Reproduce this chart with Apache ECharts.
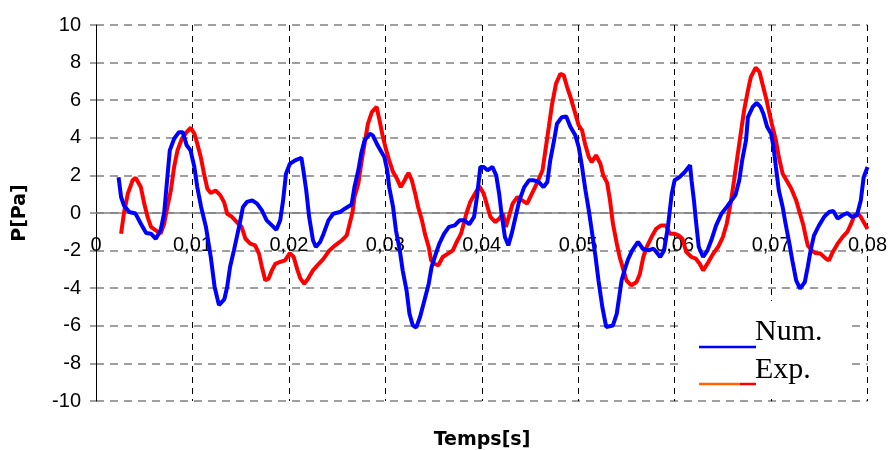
<!DOCTYPE html>
<html><head><meta charset="utf-8">
<script src="https://cdn.jsdelivr.net/npm/echarts@6/dist/echarts.min.js"></script>
<style>html,body{margin:0;padding:0;background:#fff}#c{width:890px;height:450px}</style>
</head><body><div id="c"></div>
<script>
// time in milliseconds, pressure in Pa
const numTimeMs = [2.34,2.6,2.9,3.45,4.1,4.65,5.2,5.7,6.2,6.7,7.07,7.34,7.65,8.1,8.6,9.0,9.4,9.8,10.2,10.5,10.9,11.4,11.9,12.3,12.75,12.95,13.3,13.6,13.9,14.3,14.6,14.9,15.24,15.65,16.2,16.7,17.2,17.7,18.24,18.7,19.1,19.4,19.7,20.1,20.65,21.3,21.5,21.8,22.1,22.5,22.8,23.24,23.6,24.1,24.6,25.3,25.8,26.5,26.8,27.2,27.5,27.85,28.4,28.7,29.2,29.6,29.9,30.2,30.4,30.8,31.1,31.5,31.8,32.2,32.5,32.85,33.2,33.6,34.05,34.5,34.8,35.3,35.6,36.1,36.6,37.2,37.7,38.2,38.7,39.2,39.5,39.85,40.2,40.6,41.1,41.5,41.8,42.05,42.4,42.75,43.1,43.5,43.9,44.4,44.9,45.4,45.9,46.4,46.8,47.1,47.5,47.8,48.3,48.75,49.2,49.7,50.05,50.4,50.75,51.1,51.4,51.8,52.1,52.5,52.9,53.6,54.0,54.3,54.5,54.85,55.2,55.6,56.2,56.7,57.3,57.8,58.1,58.5,58.9,59.3,59.7,60.0,60.5,61.05,61.6,61.75,62.0,62.2,62.5,62.95,63.4,63.8,64.3,64.85,65.4,65.9,66.3,66.7,67.0,67.4,67.6,68.1,68.5,68.9,69.2,69.6,70.0,70.25,70.5,70.8,71.2,71.5,71.9,72.2,72.6,73.0,73.5,73.8,74.1,74.45,74.97,75.5,76.0,76.45,76.9,77.4,77.9,78.4,78.9,79.3,79.6,80.0];
const numP = [1.9,0.85,0.4,0.05,-0.03,-0.57,-1.06,-1.1,-1.37,-0.92,0,1.56,3.33,3.95,4.3,4.3,3.6,3.33,2.45,1.38,0.32,-0.74,-2.34,-3.94,-4.9,-4.95,-4.6,-3.94,-2.87,-1.99,-1.28,-0.57,0.32,0.59,0.67,0.5,0.14,-0.39,-0.66,-0.89,-0.39,0.67,2.09,2.62,2.8,2.94,2.27,1.2,-0.21,-1.45,-1.81,-1.54,-1.1,-0.39,-0.04,0.05,0.23,0.45,1.38,2.27,3.16,3.87,4.22,4.13,3.6,3.24,2.98,2.27,1.38,0.32,-0.92,-1.99,-3.05,-4.11,-5.35,-5.98,-6.1,-5.53,-4.65,-3.76,-2.87,-2.07,-1.63,-1.1,-0.74,-0.66,-0.39,-0.39,-0.6,-0.21,0.85,2.45,2.45,2.27,2.45,2.0,1.03,-0.04,-1.28,-1.72,-1.1,-0.21,0.67,1.38,1.74,1.74,1.65,1.38,1.65,2.8,3.87,4.75,5.1,5.14,4.57,4.13,3.51,2.45,1.21,0.14,-0.92,-2.34,-3.58,-5.0,-6.06,-5.98,-5.35,-4.29,-3.58,-2.96,-2.43,-1.99,-1.54,-1.9,-1.99,-1.9,-2.07,-2.34,-1.99,-0.74,1.03,1.74,1.91,2.18,2.54,1.74,0.67,-0.39,-1.81,-2.34,-1.99,-1.45,-0.66,-0.04,0.32,0.67,0.95,1.74,2.8,3.87,5.1,5.64,5.85,5.64,5.28,4.57,4.22,3.51,2.45,1.21,0.32,-0.57,-1.63,-2.52,-3.58,-4.02,-3.67,-2.87,-1.99,-1.19,-0.66,-0.21,0.05,0.11,-0.3,-0.12,0,-0.21,-0.12,0.67,1.91,2.45];

const expTimeMs = [2.6,2.9,3.3,3.8,4.1,4.65,5.0,5.35,5.7,6.2,6.7,7.07,7.4,7.76,8.1,8.45,8.9,9.4,9.83,10.2,10.5,10.86,11.2,11.55,11.9,12.4,12.9,13.3,13.6,14.1,14.6,15.1,15.5,16.0,16.5,16.9,17.2,17.55,17.9,18.24,18.6,19.1,19.6,20.1,20.5,20.9,21.2,21.6,22.0,22.5,23.1,23.6,24.2,24.8,25.5,26.0,26.3,26.6,26.8,27.2,27.5,27.85,28.2,28.6,29.1,29.4,29.75,30.1,30.4,30.8,31.2,31.6,32.0,32.4,32.75,33.1,33.4,33.8,34.1,34.5,34.75,35.1,35.5,35.95,36.5,37.0,37.4,37.85,38.4,38.8,39.2,39.75,40.2,40.6,40.9,41.4,41.8,42.2,42.5,42.8,43.2,43.7,44.2,44.7,45.2,45.7,46.3,46.6,46.95,47.3,47.7,48.15,48.5,48.85,49.2,49.6,50.05,50.4,50.7,51.1,51.4,51.85,52.3,52.6,53.0,53.3,53.6,54.0,54.3,54.7,55.0,55.5,56.05,56.4,56.75,57.1,57.6,58.1,58.6,59.1,59.5,59.95,60.4,60.8,61.2,61.75,62.2,62.6,62.95,63.5,64.0,64.5,65.0,65.4,65.8,66.15,66.5,66.9,67.2,67.6,67.9,68.4,68.8,69.1,69.45,69.8,70.15,70.5,70.8,71.2,71.7,72.1,72.6,73.0,73.35,73.6,73.8,74.2,74.6,75.1,75.7,76.0,76.4,76.9,77.4,77.9,78.3,78.65,79.0,79.3,79.7,80.0];
const expP = [-1.1,0,1.03,1.74,1.88,1.38,0.5,-0.21,-0.74,-0.92,-1.1,-0.57,0.32,1.2,2.45,3.33,3.95,4.3,4.54,4.22,3.69,2.98,2.09,1.29,1.06,1.2,0.94,0.55,-0.04,-0.21,-0.48,-0.74,-1.37,-1.63,-1.72,-2.16,-2.87,-3.58,-3.49,-3.05,-2.7,-2.6,-2.52,-2.13,-2.34,-3.05,-3.49,-3.76,-3.49,-3.05,-2.7,-2.43,-1.99,-1.72,-1.45,-1.19,-0.57,0.05,0.85,1.56,2.62,3.69,4.75,5.37,5.64,4.93,4.04,3.33,2.8,2.18,1.83,1.38,1.74,2.13,1.74,1.03,0.32,-0.39,-1.1,-1.81,-2.52,-2.7,-2.78,-2.34,-2.16,-1.99,-1.54,-1.1,-0.04,0.58,0.94,1.42,1.03,0.32,-0.21,-0.48,-0.3,-0.04,-0.74,-0.21,0.5,0.85,0.67,0.5,1.03,1.56,2.27,3.33,4.57,5.82,6.88,7.41,7.32,6.7,6.17,5.46,4.66,4.4,3.69,2.98,2.71,3.07,2.62,2.0,1.6,0.67,-0.57,-1.63,-2.34,-3.05,-3.58,-3.85,-3.67,-3.23,-2.34,-1.81,-1.28,-0.83,-0.66,-0.66,-1.1,-1.1,-1.19,-1.37,-2.07,-2.34,-2.43,-2.7,-3.05,-2.61,-2.16,-1.81,-1.28,-0.57,0.5,1.7,2.98,4.4,5.46,6.52,7.23,7.73,7.5,6.88,6.17,5.37,4.57,3.87,2.98,2.09,1.65,1.29,0.67,-0.04,-0.66,-1.28,-1.72,-1.99,-2.13,-2.16,-2.43,-2.52,-2.07,-1.63,-1.28,-1.01,-0.57,-0.12,-0.04,-0.21,-0.57,-0.85];

const xTicks = [0,0.01,0.02,0.03,0.04,0.05,0.06,0.07,0.08];
const yTicks = [-10,-8,-6,-4,-2,0,2,4,6,8,10];
const legendNames = ['Num.', 'Exp.'];
const axisTitles = {x: 'Temps[s]', y: 'P[Pa]'};

const toPairs = (t, v) => t.map((ms, i) => [ms / 1000, v[i]]);

const chart = echarts.init(document.getElementById('c'), null, {renderer: 'canvas'});
chart.setOption({
  animation: false,
  backgroundColor: '#fff',
  grid: {left: 96, right: 21, top: 25, bottom: 49, containLabel: false},
  xAxis: {
    type: 'value', min: xTicks[0], max: xTicks[xTicks.length - 1], interval: 0.01,
    axisLine: {show: false, onZero: false},
    axisTick: {show: false},
    axisLabel: {
      margin: -166, color: '#000', fontFamily: 'Liberation Sans, Arial, sans-serif', fontSize: 20,
      formatter: v => String(Math.round(v * 100) / 100).replace('.', ',')
    },
    splitLine: {show: true, lineStyle: {color: '#000', width: 1, type: [6, 5]}}
  },
  yAxis: {
    type: 'value', min: yTicks[0], max: yTicks[yTicks.length - 1], interval: 2,
    name: axisTitles.y, nameLocation: 'middle', nameGap: 66, nameRotate: 90,
    nameTextStyle: {fontFamily: 'DejaVu Sans', fontWeight: 'bold', fontSize: 19, color: '#000'},
    axisLine: {show: true, onZero: false, lineStyle: {color: '#000', width: 1}},
    axisTick: {show: true, inside: false, length: 6, lineStyle: {color: '#808080', width: 1.5}},
    axisLabel: {margin: 15, color: '#000', fontFamily: 'Liberation Sans, Arial, sans-serif', fontSize: 20},
    splitLine: {show: true, lineStyle: {color: '#808080', width: 1.5, type: [8, 6]}}
  },
  series: [
    {name: legendNames[0], type: 'line', data: toPairs(numTimeMs, numP), showSymbol: false, symbol: 'none',
     lineStyle: {color: '#0000ff', width: 4}, z: 3,
     markLine: {silent: true, symbol: 'none', label: {show: false}, animation: false,
       lineStyle: {color: '#808080', width: 1.5, type: 'solid'}, data: [{yAxis: 0}], z: 1}},
    {name: legendNames[1], type: 'line', data: toPairs(expTimeMs, expP), showSymbol: false, symbol: 'none',
     lineStyle: {color: '#ff0000', width: 4}, z: 2}
  ],
  graphic: [
    {type: 'rect', shape: {x: 680, y: 301, width: 172, height: 95}, style: {fill: '#fff'}, z: 10},
    {type: 'line', shape: {x1: 699, y1: 347, x2: 756, y2: 347}, style: {stroke: '#0000ff', lineWidth: 2.5}, z: 11},
    {type: 'line', shape: {x1: 699, y1: 384, x2: 740, y2: 384}, style: {stroke: '#ff6600', lineWidth: 2.5}, z: 11},
    {type: 'line', shape: {x1: 740, y1: 384, x2: 756, y2: 384}, style: {stroke: '#ff0000', lineWidth: 2.5}, z: 11},
    {type: 'text', x: 755, y: 332, style: {text: legendNames[0], font: '30px "Liberation Serif", "Times New Roman", serif', fill: '#000', verticalAlign: 'middle'}, z: 11},
    {type: 'text', x: 755, y: 370, style: {text: legendNames[1], font: '30px "Liberation Serif", "Times New Roman", serif', fill: '#000', verticalAlign: 'middle'}, z: 11},
    {type: 'text', x: 482, y: 440, style: {text: axisTitles.x, font: 'bold 19px "DejaVu Sans", sans-serif', fill: '#000', align: 'center', verticalAlign: 'middle'}, z: 11}
  ]
});
</script></body></html>
